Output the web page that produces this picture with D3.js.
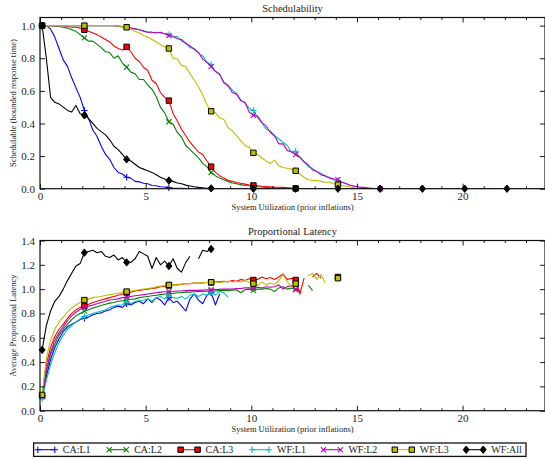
<!DOCTYPE html>
<html>
<head>
<meta charset="utf-8">
<script src="https://cdn.jsdelivr.net/npm/d3@7"></script>
<style>
  html, body { margin: 0; padding: 0; background: #fff; }
  svg { display: block; }
  text { font-family: "Liberation Serif", "DejaVu Serif", serif; fill: #222; }
</style>
</head>
<body>
<svg id="chart" width="545" height="459"></svg>
<script>
// Utilization grid: samples start at 0.1 and are 0.2 apart; each row below covers 2.0 units.
const uStart = 0.1;
const uStep = 0.2;
const markEvery = 10;

const seriesNames = ["CA:L1", "CA:L2", "CA:L3", "WF:L1", "WF:L2", "WF:L3", "WF:All"];

// Schedulable fraction (bounded response time)
const schedCAL1 = [
  1.0, 1.0, 0.98, 0.93, 0.86, 0.79, 0.75, 0.68, 0.62, 0.56,
  0.48, 0.43, 0.36, 0.32, 0.26, 0.21, 0.18, 0.13, 0.10, 0.09,
  0.07, 0.065, 0.045, 0.042, 0.033, 0.03, 0.02, 0.018, 0.012, 0.01,
  0.006, 0.004, 0.003, 0.002, 0.001, 0, 0, 0, 0, 0,
  0
];
const schedCAL2 = [
  1.0, 1.0, 1.0, 0.997, 0.995, 0.99, 0.985, 0.975, 0.965, 0.945,
  0.925, 0.905, 0.905, 0.885, 0.865, 0.84, 0.835, 0.80, 0.815, 0.77,
  0.745, 0.715, 0.705, 0.67, 0.67, 0.635, 0.61, 0.565, 0.50, 0.465,
  0.41, 0.395, 0.345, 0.315, 0.265, 0.24, 0.215, 0.19, 0.155, 0.135,
  0.10, 0.08, 0.065, 0.055, 0.045, 0.035, 0.03, 0.025, 0.02, 0.018,
  0.015, 0.012, 0.01, 0.008, 0.006, 0.005, 0.004, 0.003, 0.002, 0.001,
  0
];
const schedCAL3 = [
  1.0, 1.0, 1.0, 1.0, 1.0, 1.0, 0.995, 0.99, 0.99, 0.985,
  0.975, 0.965, 0.955, 0.945, 0.93, 0.915, 0.90, 0.875, 0.86, 0.85,
  0.87, 0.84, 0.80, 0.78, 0.745, 0.725, 0.665, 0.645, 0.59, 0.56,
  0.54, 0.46, 0.415, 0.365, 0.325, 0.285, 0.255, 0.225, 0.21, 0.17,
  0.135, 0.10, 0.08, 0.065, 0.052, 0.045, 0.038, 0.033, 0.028, 0.022,
  0.02, 0.018, 0.015, 0.013, 0.012, 0.01, 0.009, 0.008, 0.006, 0.004,
  0.002, 0.001, 0
];
const schedWFL1 = [
  1.0, 1.0, 1.0, 1.0, 1.0, 1.0, 1.0, 1.0, 1.0, 1.0,
  1.0, 1.0, 1.0, 1.0, 1.0, 1.0, 1.0, 0.998, 0.995, 0.99,
  0.99, 0.985, 0.98, 0.975, 0.97, 0.96, 0.955, 0.96, 0.955, 0.95,
  0.945, 0.93, 0.935, 0.905, 0.895, 0.865, 0.86, 0.83, 0.815, 0.775,
  0.76, 0.72, 0.705, 0.655, 0.635, 0.605, 0.585, 0.545, 0.525, 0.495,
  0.48, 0.435, 0.405, 0.365, 0.355, 0.325, 0.305, 0.285, 0.265, 0.225,
  0.23, 0.19, 0.165, 0.135, 0.125, 0.105, 0.095, 0.075, 0.07, 0.055,
  0.05, 0.04, 0.03, 0.02, 0.015, 0.01, 0.006, 0.003, 0.001, 0
];
const schedWFL2 = [
  1.0, 1.0, 1.0, 1.0, 1.0, 1.0, 1.0, 1.0, 1.0, 1.0,
  1.0, 1.0, 1.0, 1.0, 1.0, 1.0, 1.0, 1.0, 0.997, 0.995,
  0.99, 0.985, 0.98, 0.975, 0.965, 0.96, 0.96, 0.955, 0.96, 0.95,
  0.94, 0.935, 0.92, 0.915, 0.89, 0.875, 0.855, 0.835, 0.795, 0.775,
  0.75, 0.72, 0.70, 0.65, 0.63, 0.59, 0.58, 0.54, 0.53, 0.47,
  0.45, 0.445, 0.405, 0.385, 0.345, 0.325, 0.275, 0.275, 0.235, 0.225,
  0.21, 0.195, 0.165, 0.145, 0.115, 0.105, 0.085, 0.08, 0.065, 0.06,
  0.055, 0.04, 0.03, 0.02, 0.015, 0.01, 0.008, 0.005, 0.003, 0.001,
  0
];
const schedWFL3 = [
  1.0, 1.0, 1.0, 1.0, 1.0, 1.0, 1.0, 1.0, 1.0, 1.0,
  1.0, 1.0, 1.0, 1.0, 1.0, 1.0, 1.0, 1.0, 0.998, 0.995,
  0.99, 0.98, 0.965, 0.955, 0.94, 0.93, 0.915, 0.90, 0.885, 0.87,
  0.86, 0.80, 0.795, 0.755, 0.75, 0.705, 0.665, 0.625, 0.575, 0.515,
  0.475, 0.465, 0.435, 0.425, 0.375, 0.355, 0.325, 0.295, 0.265, 0.255,
  0.22, 0.21, 0.19, 0.17, 0.155, 0.175, 0.14, 0.13, 0.125, 0.12,
  0.11, 0.09, 0.07, 0.055, 0.05, 0.05, 0.045, 0.04, 0.04, 0.03,
  0.025, 0.02, 0.015, 0.01, 0.006, 0.003, 0.001, 0
];
const schedWFAll = [
  1.0, 0.80, 0.56, 0.53, 0.52, 0.50, 0.48, 0.47, 0.51, 0.46,
  0.45, 0.43, 0.40, 0.37, 0.35, 0.33, 0.30, 0.26, 0.24, 0.21,
  0.18, 0.17, 0.15, 0.13, 0.12, 0.11, 0.10, 0.085, 0.07, 0.06,
  0.05, 0.045, 0.035, 0.03, 0.022, 0.017, 0.012, 0.008, 0.005, 0.003,
  0.002, 0.001, 0, 0, 0, 0, 0, 0, 0, 0,
  0, 0, 0, 0, 0, 0, 0, 0, 0, 0,
  0, 0, 0, 0, 0, 0, 0, 0, 0, 0,
  0, 0, 0, 0, 0, 0, 0, 0, 0, 0,
  0, 0, 0, 0, 0, 0, 0, 0, 0, 0,
  0, 0, 0, 0, 0, 0, 0, 0, 0, 0,
  0, 0, 0, 0, 0, 0, 0, 0, 0, 0,
  0, 0, 0, 0, 0, 0, 0, 0, 0, 0
];

// Average proportional latency (null = no sample at that utilization)
const latCAL1 = [
  0.12, 0.28, 0.42, 0.52, 0.59, 0.65, 0.69, 0.71, 0.73, 0.75,
  0.76, 0.77, 0.79, 0.80, 0.805, 0.82, 0.83, 0.85, 0.86, 0.85,
  0.88, 0.87, 0.89, 0.90, 0.88, 0.92, 0.89, 0.93, 0.91, 0.87,
  0.93, 0.89, 0.90, 0.86, 0.82, 0.92, 0.96, 0.91, 0.88, 0.95,
  0.97, 0.87, 0.96
];
const latCAL2 = [
  0.12, 0.32, 0.46, 0.55, 0.62, 0.67, 0.71, 0.75, 0.78, 0.80,
  0.82, 0.83, 0.845, 0.855, 0.865, 0.875, 0.885, 0.89, 0.90, 0.905,
  0.91, 0.915, 0.92, 0.93, 0.935, 0.94, 0.945, 0.95, 0.955, 0.96,
  0.962, 0.965, 0.97, 0.97, 0.975, 0.975, 0.978, 0.98, 0.98, 0.982,
  0.985, 0.985, 0.988, 0.99, 0.99, 0.992, 0.995, 0.97, 0.995, 1.0,
  0.99, 1.0, 1.0, 1.005, 1.0, 0.98, 1.01, 1.02, 1.0, 1.01,
  0.995, 0.98, null, 1.03, 0.99
];
const latCAL3 = [
  0.12, 0.38, 0.52, 0.61, 0.67, 0.71, 0.76, 0.80, 0.83, 0.85,
  0.862, 0.875, 0.89, 0.90, 0.91, 0.92, 0.93, 0.94, 0.95, 0.96,
  0.97, 0.975, 0.985, 0.99, 0.995, 1.0, 1.005, 1.01, 1.02, 1.025,
  1.03, 1.035, 1.035, 1.04, 1.045, 1.045, 1.05, 1.05, 1.05, 1.055,
  1.055, 1.06, 1.06, 1.065, 1.06, 1.07, 1.065, 1.08, 1.07, 1.085,
  1.075, 1.08, 1.10, 1.085, 1.095, 1.08, 1.10, 1.125, 1.08, 1.09,
  1.075, 0.96, 1.09, null, 1.10, 1.13, 1.09, null, null, null,
  1.10
];
const latWFL1 = [
  0.10, 0.25, 0.38, 0.48, 0.56, 0.62, 0.67, 0.70, 0.73, 0.755,
  0.775, 0.79, 0.80, 0.81, 0.82, 0.83, 0.85, 0.86, 0.87, 0.87,
  0.898, 0.88, 0.90, 0.905, 0.91, 0.92, 0.90, 0.93, 0.94, 0.92,
  0.95, 0.93, 0.925, 0.94, 0.92, 0.95, 0.96, 0.94, 0.96, 0.95,
  0.975, 0.95, 0.98, 0.97, 0.935
];
const latWFL2 = [
  0.12, 0.33, 0.48, 0.58, 0.64, 0.69, 0.74, 0.78, 0.81, 0.835,
  0.85, 0.86, 0.87, 0.88, 0.89, 0.90, 0.91, 0.915, 0.92, 0.93,
  0.934, 0.94, 0.945, 0.95, 0.955, 0.96, 0.965, 0.97, 0.975, 0.978,
  0.98, 0.982, 0.985, 0.985, 0.988, 0.99, 0.99, 0.99, 0.992, 0.994,
  0.994, 0.996, 0.998, 1.0, 1.0, 1.0, 1.005, 1.005, 1.01, 1.01,
  1.01, 1.015, 1.01, 1.02, 1.015, 1.02, 1.035, 1.0, 1.02, 1.03,
  1.0, 0.99
];
const latWFL3 = [
  0.13, 0.43, 0.58, 0.67, 0.73, 0.77, 0.81, 0.845, 0.87, 0.89,
  0.91, 0.92, 0.93, 0.935, 0.94, 0.95, 0.955, 0.96, 0.965, 0.975,
  0.98, 0.985, 0.99, 0.995, 1.0, 1.005, 1.01, 1.02, 1.025, 1.03,
  1.035, 1.035, 1.04, 1.04, 1.045, 1.045, 1.05, 1.05, 1.055, 1.055,
  1.057, 1.06, 1.055, 1.06, 1.065, 1.06, 1.065, 1.06, 1.07, 1.055,
  1.045, 1.03, 1.06, 1.035, 1.05, 1.04, 1.07, 1.12, 1.06, 1.02,
  1.045, 1.03, null, 1.11, 1.13, 1.08, 1.12, 1.05, null, null,
  1.09
];
const latWFAll = [
  0.50, 0.70, 0.82, 0.90, 0.94, 1.00, 1.07, 1.13, 1.19, 1.21,
  1.30, 1.31, 1.32, 1.30, 1.31, 1.27, 1.26, 1.28, 1.24, 1.26,
  1.22, 1.22, 1.25, 1.31, 1.29, 1.27, 1.17, 1.26, 1.20, 1.23,
  1.19, 1.25, 1.17, 1.14, 1.22, 1.27, null, 1.25, 1.32, 1.31,
  1.33
];

// Axis ticks
const xMajorTicks = [0, 5, 10, 15, 20];
const xMinorTicks = [1, 2, 3, 4, 6, 7, 8, 9, 11, 12, 13, 14, 16, 17, 18, 19, 21, 22, 23];
const schedTicks = [0, 0.2, 0.4, 0.6, 0.8, 1.0];
const latTicks = [0, 0.2, 0.4, 0.6, 0.8, 1.0, 1.2, 1.4];

// Styling per series
const seriesColors = ["#0000ff", "#008000", "#ff0000", "#00bfbf", "#bf00bf", "#bfbf00", "#000000"];
const seriesMarkers = ["plus", "cross", "square", "plus", "cross", "square", "diamond"];
const schedSeries = [schedCAL1, schedCAL2, schedCAL3, schedWFL1, schedWFL2, schedWFL3, schedWFAll];
const latSeries = [latCAL1, latCAL2, latCAL3, latWFL1, latWFL2, latWFL3, latWFAll];

const svg = d3.select("#chart");
svg.append("rect").attr("width", 545).attr("height", 459).attr("fill", "#fff");

const plotLeft = 40, plotRight = 545;
const x = d3.scaleLinear().domain([0, 23.9]).range([plotLeft, plotRight]);

const markerPath = {
  plus: "M-3.2,0H3.2M0,-3.2V3.2",
  cross: "M-2.6,-2.6L2.6,2.6M-2.6,2.6L2.6,-2.6",
  square: "M-2.7,-2.7H2.7V2.7H-2.7Z",
  diamond: "M0,-3.7L3,0L0,3.7L-3,0Z"
};

function drawMarker(g, type, color, cx, cy) {
  const p = g.append("path")
    .attr("d", markerPath[type])
    .attr("transform", `translate(${cx},${cy})`);
  if (type === "plus" || type === "cross") {
    p.attr("fill", "none").attr("stroke", color).attr("stroke-width", 1.1);
  } else {
    p.attr("fill", color).attr("stroke", "#000").attr("stroke-width", 1);
  }
}

function styleAxis(g) {
  g.select(".domain").remove();
  g.selectAll(".tick line").attr("stroke", "#000").attr("stroke-width", 0.9);
  g.selectAll(".tick text")
    .attr("font-family", '"Liberation Serif", "DejaVu Serif", serif')
    .attr("font-size", 11)
    .attr("fill", "#222");
}

function drawPanel(cfg) {
  const y = d3.scaleLinear().domain([0, cfg.yMax]).range([cfg.bottom, cfg.top]);
  const g = svg.append("g");

  const clipId = "clip-" + cfg.id;
  svg.append("clipPath").attr("id", clipId)
    .append("rect")
    .attr("x", plotLeft).attr("y", cfg.top)
    .attr("width", plotRight - plotLeft).attr("height", cfg.bottom - cfg.top);

  // Series lines and markers
  cfg.values.forEach((vals, si) => {
    const pts = vals.map((v, i) => ({ u: uStart + i * uStep, v: v, i: i }));
    const line = d3.line()
      .defined(d => d.v !== null)
      .x(d => x(d.u))
      .y(d => y(d.v));
    g.append("path")
      .attr("clip-path", `url(#${clipId})`)
      .attr("d", line(pts))
      .attr("fill", "none")
      .attr("stroke", seriesColors[si])
      .attr("stroke-width", 1.1)
      .attr("stroke-linejoin", "round");
    const mg = g.append("g");
    pts.filter(d => d.i % markEvery === 0 && d.v !== null)
      .forEach(d => drawMarker(mg, seriesMarkers[si], seriesColors[si], x(d.u), y(d.v)));
  });

  // Ticks on all four sides, pointing inward
  const axB = g.append("g").attr("transform", `translate(0,${cfg.bottom})`)
    .call(d3.axisBottom(x).tickValues(xMajorTicks).tickSize(-5).tickPadding(3.5).tickFormat(d3.format("d")));
  styleAxis(axB);
  const axBm = g.append("g").attr("transform", `translate(0,${cfg.bottom})`)
    .call(d3.axisBottom(x).tickValues(xMinorTicks).tickSize(-2.5).tickFormat(""));
  styleAxis(axBm);
  const axT = g.append("g").attr("transform", `translate(0,${cfg.top})`)
    .call(d3.axisTop(x).tickValues(xMajorTicks).tickSize(-5).tickFormat(""));
  styleAxis(axT);
  const axTm = g.append("g").attr("transform", `translate(0,${cfg.top})`)
    .call(d3.axisTop(x).tickValues(xMinorTicks).tickSize(-2.5).tickFormat(""));
  styleAxis(axTm);
  const axL = g.append("g").attr("transform", `translate(${plotLeft},0)`)
    .call(d3.axisLeft(y).tickValues(cfg.yTicks).tickSize(-5).tickPadding(5).tickFormat(d3.format(".1f")));
  styleAxis(axL);
  const axR = g.append("g").attr("transform", `translate(${plotRight},0)`)
    .call(d3.axisRight(y).tickValues(cfg.yTicks).tickSize(-5).tickFormat(""));
  styleAxis(axR);

  // Frame
  g.append("rect")
    .attr("x", plotLeft).attr("y", cfg.top)
    .attr("width", plotRight - plotLeft).attr("height", cfg.bottom - cfg.top)
    .attr("fill", "none").attr("stroke", "#111").attr("stroke-width", 1.2);

  // Title and axis labels
  const cx = (plotLeft + plotRight) / 2;
  g.append("text").attr("x", cx).attr("y", cfg.top - 6)
    .attr("text-anchor", "middle").attr("font-size", 10.5).text(cfg.title);
  g.append("text").attr("x", cx).attr("y", cfg.bottom + 21.5)
    .attr("text-anchor", "middle").attr("font-size", 8.5).text("System Utilization (prior inflations)");
  g.append("text")
    .attr("transform", `translate(15.5,${(cfg.top + cfg.bottom) / 2}) rotate(-90)`)
    .attr("text-anchor", "middle").attr("font-size", 8.5).text(cfg.ylabel);
}

drawPanel({
  id: "sched", top: 17.5, bottom: 188.7, yMax: 1.05, yTicks: schedTicks,
  title: "Schedulability", ylabel: "Schedulable (bounded response time)", values: schedSeries
});
drawPanel({
  id: "lat", top: 240.5, bottom: 410.7, yMax: 1.4, yTicks: latTicks,
  title: "Proportional Latency", ylabel: "Average Proportional Latency", values: latSeries
});

// Legend
const legend = svg.append("g");
legend.append("rect")
  .attr("x", 33.6).attr("y", 443).attr("width", 492.4).attr("height", 13.4)
  .attr("fill", "#fff").attr("stroke", "#111").attr("stroke-width", 1.3);
const legendY = 449.7;
seriesNames.forEach((name, si) => {
  const x0 = 37.8 + si * 71.4;
  legend.append("line")
    .attr("x1", x0).attr("x2", x0 + 17).attr("y1", legendY).attr("y2", legendY)
    .attr("stroke", seriesColors[si]).attr("stroke-width", 1.1);
  drawMarker(legend, seriesMarkers[si], seriesColors[si], x0, legendY);
  drawMarker(legend, seriesMarkers[si], seriesColors[si], x0 + 17, legendY);
  legend.append("text").attr("x", x0 + 25).attr("y", legendY + 3.4)
    .attr("font-size", 10).text(name);
});
</script>
</body>
</html>
